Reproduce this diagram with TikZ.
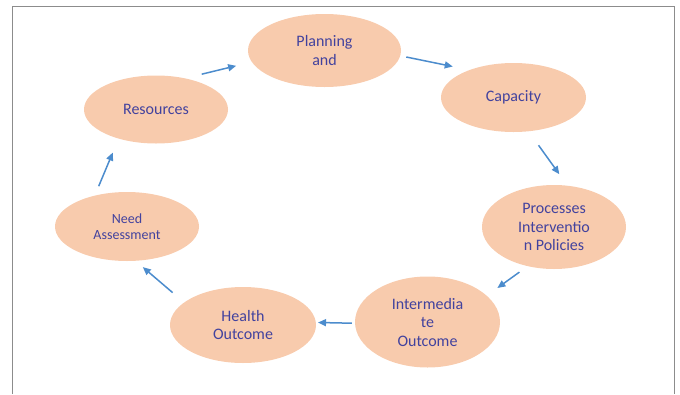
\documentclass[tikz,border=0pt]{standalone}
\usepackage{fontspec}
\setmainfont{Carlito}
\usetikzlibrary{shapes.geometric,arrows.meta}
\definecolor{peach}{RGB}{248,203,173}
\definecolor{bubbletext}{RGB}{66,66,158}
\definecolor{arrowblue}{RGB}{76,140,205}
\definecolor{framegray}{RGB}{140,140,140}

\begin{document}
\begin{tikzpicture}[x=1pt,y=-1pt,>={Triangle[length=8pt,width=7pt]},
  stage/.style={ellipse,fill=peach,text=bubbletext,align=center,inner sep=0pt,
    minimum width=145pt,minimum height=70pt,font=\fontsize{16}{18.5}\selectfont},
  flow/.style={->,arrowblue,line width=1.5pt}]
  \useasboundingbox (0,0) rectangle (680,394);
  % frame
  \draw[framegray,line width=1pt] (12.3,394) -- (12.3,6.3) -- (674,6.3) -- (674,394);
  % stages of the cycle
  \node[stage,minimum width=153pt,minimum height=73pt] (plan) at (324.5,50.5) {Planning\\and};
  \node[stage,minimum height=69pt] (cap) at (513.5,97.5) {Capacity};
  \node[stage,minimum width=144pt,minimum height=84pt] (proc) at (554,227) {Processes\\Interventio\\n Policies};
  \node[stage,minimum height=91pt] (inter) at (427.5,322) {Intermedia\\te\\Outcome};
  \node[stage,minimum width=146pt,minimum height=76pt] (health) at (243,325) {Health\\Outcome};
  \node[stage,minimum width=144pt,minimum height=69pt,
        font=\fontsize{14}{16.5}\selectfont] (need) at (127,226.5) {Need\\Assessment};
  \node[stage,minimum width=144pt,minimum height=68pt] (res) at (156,109.5) {Resources};
  % arrows between stages
  \draw[flow,shorten <=17pt,shorten >=16pt] (res.47) -- (plan.189);
  \draw[flow,shorten <=6pt,shorten >=17pt] (plan.356) -- (cap.148);
  \draw[flow,shorten <=17pt,shorten >=14pt] (cap.294) -- (proc.72);
  \draw[flow,shorten <=10pt,shorten >=13pt] (proc.236.6) -- (inter.24.3);
  \draw[flow,shorten <=3pt,shorten >=2pt] (inter.181.5) -- (health.2.3);
  \draw[flow,shorten <=15pt,shorten >=9.5pt] (health.159.2) -- (need.284.4);
  \draw[flow,shorten <=10pt,shorten >=15pt] (need.136) -- (res.218.4);
\end{tikzpicture}
\end{document}
